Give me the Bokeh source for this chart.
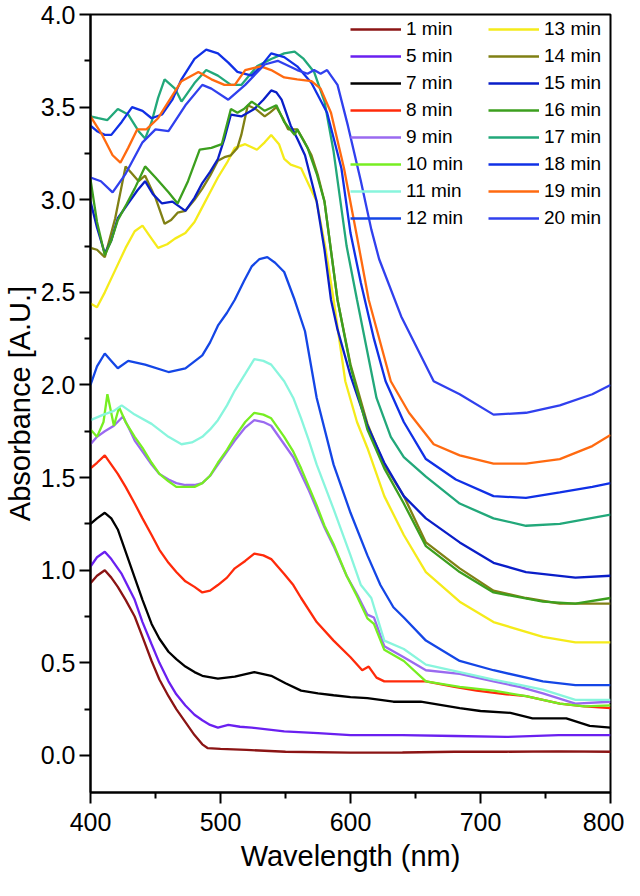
from bokeh.plotting import figure
from bokeh.models import Range1d, FixedTicker, PrintfTickFormatter, Legend, LegendItem
from bokeh.embed import file_html
from bokeh.resources import INLINE

# ---------------- data ----------------
x_ticks = [400, 500, 600, 700, 800]
x_minor = [450, 550, 650, 750]
y_ticks = [0.0, 0.5, 1.0, 1.5, 2.0, 2.5, 3.0, 3.5, 4.0]
y_minor = [0.25, 0.75, 1.25, 1.75, 2.25, 2.75, 3.25, 3.75]

labels = ["1 min", "5 min", "7 min", "8 min", "9 min", "10 min", "11 min", "12 min",
          "13 min", "14 min", "15 min", "16 min", "17 min", "18 min", "19 min", "20 min"]

wl_01 = [400, 405, 411, 416, 421, 427, 434, 440, 447, 453, 460, 466, 473, 480, 486, 490, 500, 520, 550, 600, 640, 680, 720, 760, 800]
ab_01 = [0.93, 0.97, 1.00, 0.96, 0.91, 0.84, 0.75, 0.64, 0.51, 0.41, 0.32, 0.25, 0.18, 0.11, 0.06, 0.04, 0.035, 0.03, 0.02, 0.015, 0.016, 0.02, 0.02, 0.022, 0.02]

wl_05 = [400, 405, 411, 416, 424, 434, 440, 447, 453, 460, 466, 473, 480, 486, 492, 498, 506, 515, 524, 549, 575, 600, 640, 680, 720, 760, 800]
ab_05 = [1.02, 1.07, 1.10, 1.06, 0.98, 0.84, 0.72, 0.60, 0.50, 0.40, 0.33, 0.27, 0.22, 0.19, 0.165, 0.15, 0.165, 0.155, 0.15, 0.13, 0.12, 0.11, 0.11, 0.105, 0.10, 0.11, 0.11]

wl_07 = [400, 405, 411, 416, 421, 427, 434, 440, 447, 453, 460, 466, 473, 480, 486, 498, 511, 526, 539, 550, 562, 575, 587, 600, 613, 633, 654, 684, 700, 723, 740, 766, 784, 800]
ab_07 = [1.25, 1.28, 1.31, 1.28, 1.22, 1.10, 0.96, 0.84, 0.71, 0.63, 0.56, 0.52, 0.48, 0.45, 0.43, 0.415, 0.425, 0.45, 0.43, 0.39, 0.35, 0.335, 0.325, 0.315, 0.31, 0.29, 0.29, 0.255, 0.24, 0.23, 0.20, 0.20, 0.16, 0.15]

wl_08 = [400, 405, 411, 416, 421, 427, 434, 440, 447, 453, 460, 466, 473, 480, 486, 492, 498, 505, 511, 519, 526, 533, 539, 549, 556, 562, 574, 587, 600, 609, 614, 620, 626, 641, 658, 680, 697, 720, 735, 761, 780, 800]
ab_08 = [1.55, 1.58, 1.62, 1.57, 1.52, 1.45, 1.36, 1.28, 1.19, 1.11, 1.04, 0.99, 0.94, 0.91, 0.88, 0.89, 0.92, 0.96, 1.01, 1.05, 1.09, 1.08, 1.06, 0.98, 0.92, 0.85, 0.72, 0.62, 0.53, 0.46, 0.48, 0.42, 0.40, 0.40, 0.40, 0.37, 0.35, 0.33, 0.32, 0.28, 0.265, 0.255]

wl_09 = [400, 405, 411, 418, 425, 430, 434, 440, 447, 453, 460, 466, 473, 480, 486, 492, 498, 505, 511, 519, 526, 533, 539, 549, 556, 562, 568, 574, 580, 587, 597, 605, 613, 618, 626, 641, 658, 684, 710, 730, 748, 773, 800]
ab_09 = [1.68, 1.72, 1.75, 1.78, 1.83, 1.76, 1.70, 1.64, 1.57, 1.52, 1.49, 1.47, 1.46, 1.46, 1.47, 1.51, 1.57, 1.64, 1.70, 1.77, 1.81, 1.80, 1.78, 1.68, 1.61, 1.52, 1.43, 1.33, 1.23, 1.13, 0.97, 0.87, 0.76, 0.745, 0.59, 0.53, 0.46, 0.44, 0.40, 0.37, 0.335, 0.28, 0.29]

wl_10 = [400, 405, 410, 413, 418, 422, 427, 434, 440, 447, 453, 460, 466, 473, 480, 486, 492, 498, 505, 511, 519, 526, 533, 539, 549, 556, 562, 568, 574, 580, 587, 597, 605, 613, 618, 626, 641, 658, 684, 710, 735, 761, 780, 800]
ab_10 = [1.76, 1.72, 1.80, 1.95, 1.78, 1.88, 1.80, 1.72, 1.66, 1.58, 1.52, 1.48, 1.45, 1.45, 1.45, 1.47, 1.51, 1.58, 1.65, 1.72, 1.80, 1.85, 1.84, 1.82, 1.72, 1.64, 1.55, 1.45, 1.35, 1.24, 1.14, 0.97, 0.86, 0.74, 0.71, 0.57, 0.51, 0.40, 0.37, 0.35, 0.32, 0.28, 0.265, 0.27]

wl_11 = [400, 410, 418, 424, 434, 447, 460, 470, 478, 486, 492, 498, 505, 511, 519, 526, 533, 539, 549, 556, 562, 568, 574, 587, 600, 608, 616, 626, 641, 658, 684, 710, 748, 773, 800]
ab_11 = [1.81, 1.84, 1.86, 1.89, 1.84, 1.79, 1.72, 1.68, 1.69, 1.72, 1.76, 1.81, 1.89, 1.97, 2.06, 2.14, 2.13, 2.11, 2.02, 1.93, 1.82, 1.70, 1.57, 1.33, 1.08, 0.92, 0.85, 0.62, 0.575, 0.49, 0.45, 0.41, 0.355, 0.30, 0.30]

wl_12 = [400, 405, 411, 416, 421, 429, 442, 460, 473, 486, 492, 498, 505, 511, 518, 524, 530, 536, 542, 549, 557, 565, 574, 587, 600, 613, 623, 633, 641, 658, 684, 710, 748, 773, 800]
ab_12 = [2.00, 2.10, 2.17, 2.13, 2.09, 2.13, 2.11, 2.07, 2.09, 2.16, 2.23, 2.32, 2.39, 2.46, 2.56, 2.64, 2.68, 2.69, 2.66, 2.61, 2.46, 2.29, 1.93, 1.57, 1.31, 1.08, 0.92, 0.80, 0.745, 0.62, 0.51, 0.46, 0.40, 0.38, 0.38]

wl_13 = [400, 405, 411, 419, 427, 434, 440, 446, 452, 459, 465, 473, 480, 486, 492, 498, 505, 511, 519, 528, 534, 539, 545, 549, 554, 562, 568, 574, 581, 587, 596, 605, 613, 626, 641, 658, 684, 710, 748, 773, 800]
ab_13 = [2.44, 2.42, 2.50, 2.62, 2.74, 2.83, 2.86, 2.80, 2.74, 2.76, 2.79, 2.82, 2.88, 2.96, 3.04, 3.12, 3.20, 3.28, 3.30, 3.27, 3.31, 3.35, 3.30, 3.22, 3.19, 3.17, 3.08, 2.99, 2.73, 2.46, 2.02, 1.80, 1.66, 1.40, 1.19, 0.99, 0.83, 0.72, 0.64, 0.61, 0.61]

wl_14 = [400, 405, 411, 419, 427, 432, 437, 442, 450, 457, 462, 467, 473, 480, 486, 492, 498, 503, 508, 513, 516, 521, 527, 534, 538, 543, 548, 552, 559, 564, 570, 575, 580, 590, 600, 613, 626, 641, 658, 684, 710, 735, 761, 800]
ab_14 = [2.74, 2.73, 2.69, 2.90, 3.18, 3.14, 3.10, 3.13, 3.01, 2.87, 2.89, 2.93, 2.94, 3.00, 3.06, 3.13, 3.21, 3.23, 3.24, 3.28, 3.35, 3.51, 3.49, 3.45, 3.47, 3.50, 3.44, 3.38, 3.38, 3.32, 3.24, 3.13, 2.99, 2.46, 2.11, 1.79, 1.57, 1.40, 1.15, 1.01, 0.89, 0.85, 0.82, 0.82]

wl_15 = [400, 405, 411, 416, 421, 429, 436, 442, 448, 455, 463, 473, 480, 486, 492, 498, 503, 508, 516, 521, 526, 533, 539, 543, 547, 554, 559, 565, 574, 580, 585, 590, 600, 613, 626, 641, 658, 684, 710, 735, 773, 800]
ab_15 = [2.99, 2.85, 2.71, 2.78, 2.90, 2.98, 3.05, 3.10, 3.03, 2.98, 2.99, 2.94, 3.01, 3.09, 3.15, 3.22, 3.33, 3.46, 3.45, 3.47, 3.49, 3.54, 3.59, 3.58, 3.54, 3.40, 3.33, 3.24, 2.99, 2.73, 2.46, 2.30, 2.05, 1.78, 1.58, 1.40, 1.28, 1.15, 1.04, 0.99, 0.96, 0.97]

wl_16 = [400, 405, 411, 416, 421, 428, 434, 442, 450, 460, 467, 475, 484, 493, 501, 508, 513, 518, 524, 534, 543, 549, 557, 559, 567, 574, 580, 590, 600, 613, 626, 641, 658, 684, 710, 748, 773, 800]
ab_16 = [3.11, 2.88, 2.70, 2.78, 2.89, 2.98, 3.06, 3.18, 3.12, 3.04, 2.98, 3.10, 3.27, 3.28, 3.30, 3.49, 3.47, 3.49, 3.53, 3.48, 3.51, 3.42, 3.35, 3.38, 3.28, 3.14, 2.99, 2.46, 2.10, 1.76, 1.55, 1.36, 1.13, 0.99, 0.88, 0.83, 0.82, 0.85]

wl_17 = [400, 406, 413, 421, 429, 437, 442, 447, 452, 457, 465, 470, 480, 489, 498, 508, 516, 528, 539, 549, 557, 564, 572, 580, 587, 597, 605, 620, 631, 641, 658, 684, 710, 735, 761, 800]
ab_17 = [3.45, 3.44, 3.43, 3.49, 3.46, 3.37, 3.33, 3.42, 3.55, 3.65, 3.60, 3.53, 3.63, 3.70, 3.67, 3.62, 3.62, 3.72, 3.76, 3.79, 3.80, 3.76, 3.69, 3.53, 3.26, 2.75, 2.46, 1.93, 1.72, 1.61, 1.505, 1.36, 1.28, 1.24, 1.25, 1.30]

wl_18 = [400, 405, 411, 416, 424, 432, 440, 447, 455, 463, 470, 480, 489, 498, 506, 513, 524, 531, 539, 549, 559, 570, 582, 593, 600, 608, 618, 627, 641, 658, 681, 710, 735, 761, 786, 800]
ab_18 = [3.40, 3.37, 3.35, 3.35, 3.42, 3.50, 3.48, 3.44, 3.46, 3.54, 3.65, 3.76, 3.81, 3.79, 3.74, 3.69, 3.67, 3.72, 3.79, 3.77, 3.72, 3.63, 3.47, 3.17, 2.82, 2.55, 2.25, 2.02, 1.80, 1.60, 1.49, 1.40, 1.39, 1.42, 1.45, 1.47]

wl_19 = [400, 409, 417, 423, 429, 436, 443, 452, 460, 470, 483, 493, 503, 511, 519, 531, 539, 549, 559, 570, 577, 585, 595, 605, 614, 631, 645, 664, 684, 710, 735, 761, 786, 800]
ab_19 = [3.45, 3.35, 3.24, 3.20, 3.28, 3.38, 3.38, 3.44, 3.53, 3.64, 3.69, 3.65, 3.62, 3.62, 3.70, 3.72, 3.70, 3.66, 3.65, 3.64, 3.60, 3.47, 3.17, 2.80, 2.46, 2.02, 1.85, 1.68, 1.62, 1.575, 1.575, 1.60, 1.67, 1.73]

wl_20 = [400, 408, 417, 427, 440, 450, 460, 473, 486, 493, 506, 519, 534, 544, 559, 567, 572, 577, 582, 590, 598, 608, 616, 622, 639, 664, 684, 710, 735, 761, 786, 800]
ab_20 = [3.12, 3.10, 3.04, 3.14, 3.31, 3.38, 3.37, 3.51, 3.62, 3.60, 3.54, 3.62, 3.73, 3.75, 3.70, 3.68, 3.70, 3.68, 3.70, 3.62, 3.40, 3.10, 2.84, 2.68, 2.37, 2.02, 1.95, 1.84, 1.85, 1.89, 1.95, 2.00]

colors = ["#8B1414", "#6A20F0", "#000000", "#FF2A0A", "#9A6AF0", "#77EE22", "#88F5DD", "#1446E6",
          "#F5EB1A", "#808014", "#0A1EC8", "#3C9F1E", "#22A87A", "#1030E6", "#FF6A10", "#3040EE"]

wls = [wl_01, wl_05, wl_07, wl_08, wl_09, wl_10, wl_11, wl_12,
       wl_13, wl_14, wl_15, wl_16, wl_17, wl_18, wl_19, wl_20]
abs_ = [ab_01, ab_05, ab_07, ab_08, ab_09, ab_10, ab_11, ab_12,
        ab_13, ab_14, ab_15, ab_16, ab_17, ab_18, ab_19, ab_20]

FONT = "Liberation Sans"

p = figure(width=624, height=880, output_backend="svg", toolbar_location=None,
           x_range=Range1d(400, 800), y_range=Range1d(-0.2, 4.0),
           min_border_left=87, min_border_right=14, min_border_top=14, min_border_bottom=88)

p.xgrid.visible = False
p.ygrid.visible = False
p.outline_line_color = "black"
p.outline_line_width = 2
p.background_fill_color = "white"
p.border_fill_color = "white"

p.xaxis.ticker = FixedTicker(ticks=x_ticks, minor_ticks=x_minor)
p.yaxis.ticker = FixedTicker(ticks=y_ticks, minor_ticks=y_minor)
p.yaxis.formatter = PrintfTickFormatter(format="%.1f")
for ax in (p.xaxis[0], p.yaxis[0]):
    ax.axis_line_width = 2
    ax.axis_line_color = "black"
    ax.major_tick_line_width = 2
    ax.minor_tick_line_width = 2
    ax.major_tick_out = 11
    ax.major_tick_in = 0
    ax.minor_tick_out = 6
    ax.minor_tick_in = 0
    ax.major_label_text_font = FONT
    ax.major_label_text_font_size = "25px"
    ax.major_label_text_color = "black"
    ax.axis_label_text_font = FONT
    ax.axis_label_text_font_size = "29px"
    ax.axis_label_text_font_style = "normal"
    ax.axis_label_text_color = "black"

p.xaxis.axis_label = "Wavelength (nm)"
p.yaxis.axis_label = "Absorbance [A.U.]"
p.xaxis.major_label_standoff = 9
p.xaxis.axis_label_standoff = 6
p.yaxis.major_label_standoff = 4
p.yaxis.axis_label_standoff = 2

items = []
for lab, x, y, c in zip(labels, wls, abs_, colors):
    r = p.line(x, y, line_color=c, line_width=2.3)
    items.append(LegendItem(label=lab, renderers=[r]))

def make_legend(its, loc):
    leg = Legend(items=its, location=loc, orientation="vertical")
    leg.background_fill_alpha = 0
    leg.border_line_alpha = 0
    leg.padding = 0
    leg.margin = 0
    leg.spacing = 5
    leg.glyph_width = 51
    leg.glyph_height = 20
    leg.label_height = 20
    leg.label_standoff = 5
    leg.label_text_font = FONT
    leg.label_text_font_size = "19px"
    leg.label_text_color = "black"
    return leg

p.add_layout(make_legend(items[:8], (260, 563)))
p.add_layout(make_legend(items[8:], (398, 563)))

open("out.html", "w").write(file_html(p, INLINE))
